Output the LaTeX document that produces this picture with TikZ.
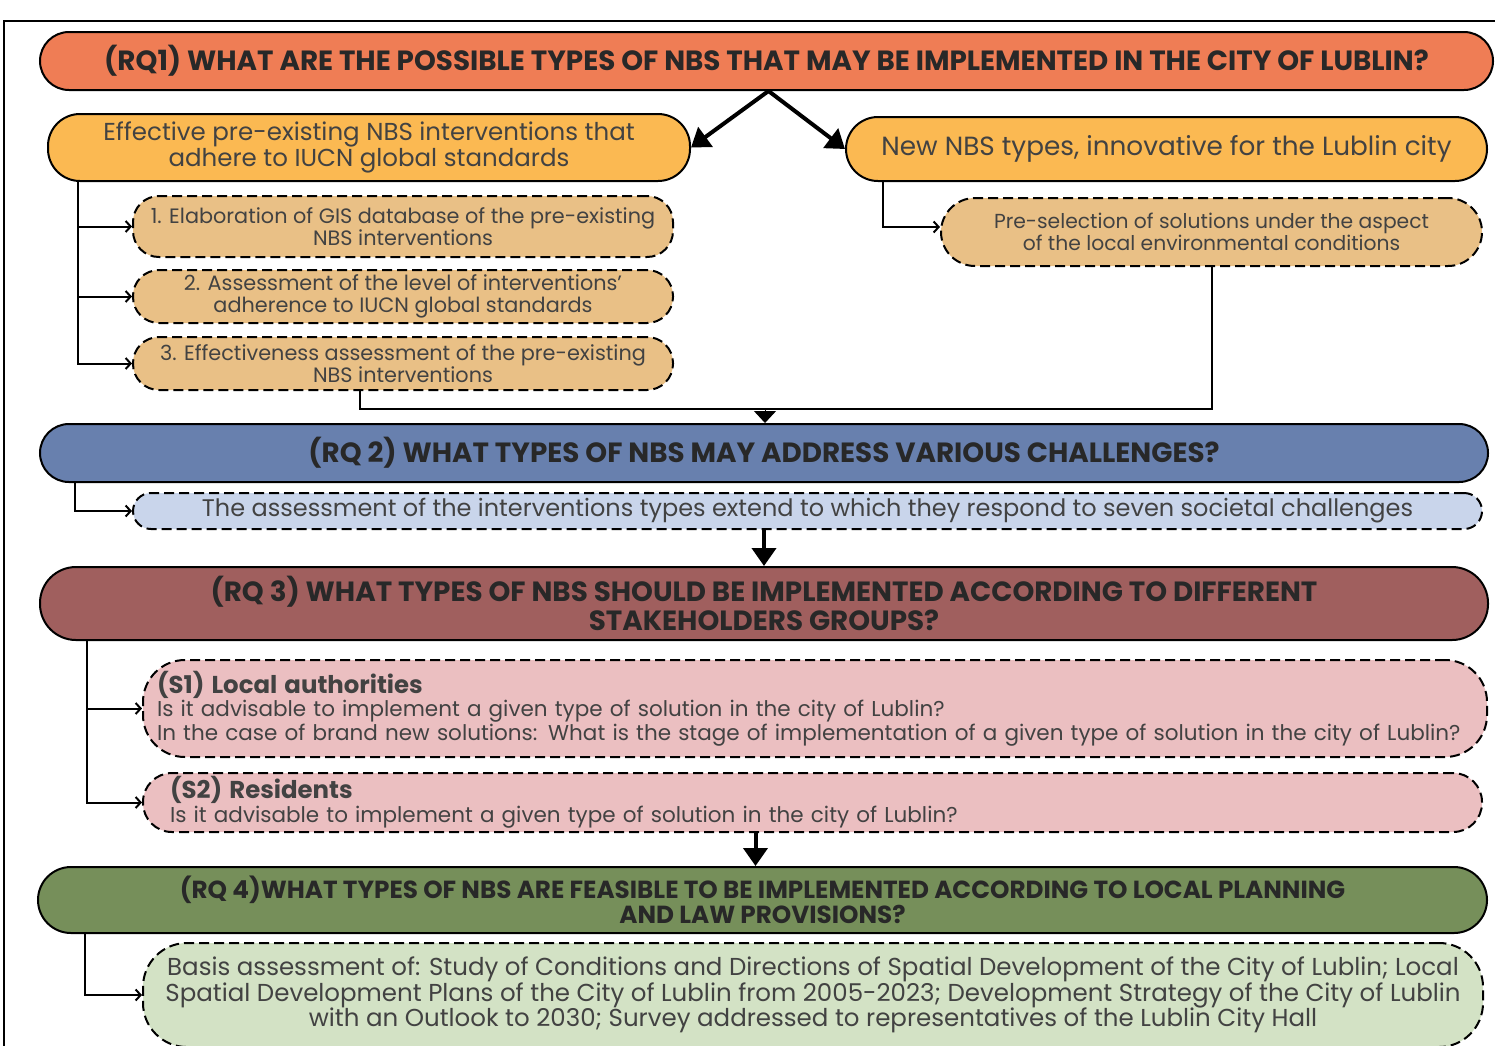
\documentclass[tikz,border=0pt]{standalone}
\usepackage{fontspec}
\setmainfont{Poppins}
\usepackage{xcolor}
\usetikzlibrary{calc,arrows.meta}

\definecolor{rqorange}{RGB}{239,125,85}
\definecolor{rqyellow}{RGB}{251,185,82}
\definecolor{steptan}{RGB}{233,192,134}
\definecolor{rqblue}{RGB}{104,128,174}
\definecolor{stepblue}{RGB}{201,213,235}
\definecolor{rqred}{RGB}{160,95,94}
\definecolor{steppink}{RGB}{235,191,193}
\definecolor{rqgreen}{RGB}{118,143,90}
\definecolor{stepgreen}{RGB}{211,226,197}
\definecolor{headtxt}{RGB}{40,40,40}
\definecolor{bodytxt}{RGB}{66,66,66}

\newcommand{\grouphead}[1]{{\bfseries\fontsize{24.4}{24}\selectfont #1}}

\begin{document}
\begin{tikzpicture}[x=1pt,y=-1pt]
        \tikzstyle{rq box}=[draw=black,line width=2pt,rounded corners=29pt,align=center,text=headtxt,font=\bfseries\fontsize{27.8}{29}\selectfont]
        \tikzstyle{aim box}=[draw=black,line width=2pt,rounded corners=32pt,align=center,text=bodytxt,font=\fontsize{24.5}{26}\selectfont]
        \tikzstyle{step box}=[draw=black,line width=2pt,dash pattern=on 10pt off 5pt,rounded corners=26pt,align=center,text=bodytxt,font=\fontsize{20.8}{22.5}\selectfont]
        \tikzstyle{link}=[line width=2pt,-{Straight Barb[length=5pt,width=11pt]}]
        \tikzstyle{big arrow}=[line width=4pt,-{Triangle[length=18pt,width=24pt]}]

        \useasboundingbox (0,0) rectangle (1495,1045);
        \draw[line width=1.5pt] (4,21) rectangle (1530,1080);

        \node(rq1)[rq box,fill=rqorange,minimum width=1453,minimum height=58] at (766.5,61)
            {(RQ1) WHAT ARE THE POSSIBLE TYPES OF NBS THAT MAY BE IMPLEMENTED IN THE CITY OF LUBLIN?};
        \node(pre)[aim box,fill=rqyellow,minimum width=642,minimum height=67] at (369,147.5)
            {Effective pre-existing NBS interventions that\\adhere to IUCN global standards};
        \node(new)[aim box,fill=rqyellow,minimum width=641,minimum height=64,font=\fontsize{26.3}{28}\selectfont] at (1166.5,149)
            {New NBS types, innovative for the Lublin city};
        \node(p1)[step box,fill=steptan,minimum width=540,minimum height=61] at (403,226.5)
            {1. Elaboration of GIS database of the pre-existing\\NBS interventions};
        \node(p2)[step box,fill=steptan,minimum width=540,minimum height=53] at (403,296.5)
            {2. Assessment of the level of interventions’\\adherence to IUCN global standards};
        \node(p3)[step box,fill=steptan,minimum width=540,minimum height=53] at (403,363.5)
            {3. Effectiveness assessment of the pre-existing\\NBS interventions};
        \node(sel)[step box,fill=steptan,minimum width=541,minimum height=68,rounded corners=34pt,font=\fontsize{20.3}{22}\selectfont] at (1211.5,232)
            {Pre-selection of solutions under the aspect\\of the local environmental conditions};

        \node(rq2)[rq box,fill=rqblue,minimum width=1448,minimum height=58] at (764,453)
            {(RQ 2) WHAT TYPES OF NBS MAY ADDRESS VARIOUS CHALLENGES?};
        \node(ass)[step box,fill=stepblue,minimum width=1349,minimum height=36,rounded corners=18pt,font=\fontsize{24}{26}\selectfont] at (807.5,511)
            {The assessment of the interventions types extend to which they respond to seven societal challenges};

        \node(rq3)[rq box,fill=rqred,minimum width=1448,minimum height=73,rounded corners=36pt] at (764,603.5)
            {(RQ 3) WHAT TYPES OF NBS SHOULD BE IMPLEMENTED ACCORDING TO DIFFERENT\\STAKEHOLDERS GROUPS?};
        \node(s1)[step box,fill=steppink,text width=1316,inner xsep=14pt,minimum height=97,align=left,rounded corners=42pt,font=\fontsize{21.5}{23.5}\selectfont] at (815,708.5)
            {\grouphead{(S1) Local authorities}\\Is it advisable to implement a given type of solution in the city of Lublin?\\In the case of brand new solutions: What is the stage of implementation of a given type of solution in the city of Lublin?};
        \node(s2)[step box,fill=steppink,text width=1285,inner xsep=27pt,minimum height=59,align=left,rounded corners=29pt,font=\fontsize{21.5}{24}\selectfont] at (812.5,802.5)
            {\grouphead{(S2) Residents}\\Is it advisable to implement a given type of solution in the city of Lublin?};

        \node(rq4)[rq box,fill=rqgreen,minimum width=1449,minimum height=66,rounded corners=33pt,font=\bfseries\fontsize{24.7}{25}\selectfont] at (762.5,900)
            {(RQ 4)WHAT TYPES OF NBS ARE FEASIBLE TO BE IMPLEMENTED ACCORDING TO LOCAL PLANNING\\AND LAW PROVISIONS?};
        \node(basis)[step box,fill=stepgreen,minimum width=1340,minimum height=104,rounded corners=44pt,font=\fontsize{24.5}{25.5}\selectfont] at (813,995)
            {Basis assessment of: Study of Conditions and Directions of Spatial Development of the City of Lublin; Local\\Spatial Development Plans of the City of Lublin from 2005-2023; Development Strategy of the City of Lublin\\with an Outlook to 2030; Survey addressed to representatives of the Lublin City Hall};

        \draw[big arrow] ($(rq1.south)+(2,0)$) -- (pre.east);
        \draw[big arrow] ($(rq1.south)+(2,0)$) -- (new.west);
        \draw[link] ($(pre.south west)+(31,0)$) |- (p1);
        \draw[link] ($(pre.south west)+(31,0)$) |- (p2);
        \draw[link] ($(pre.south west)+(31,0)$) |- (p3);
        \draw[link] ($(new.south west)+(38,0)$) |- ([yshift=5pt]sel.west);

        \coordinate (m) at (765,409);
        \draw[line width=2pt] ($(p3.south)+(-43,0)$) |- (m) -| (sel.south);
        \draw[line width=1pt,-{Triangle[length=12pt,width=22pt]}] (m) -- (m |- rq2.north);

        \draw[link] ($(rq2.south west)+(36,0)$) |- (ass);
        \draw[big arrow] (rq3.north |- ass.south) -- (rq3.north);
        \draw[link] ($(rq3.south west)+(48,0)$) |- (s1);
        \draw[link] ($(rq3.south west)+(48,0)$) |- (s2);
        \draw[big arrow] ([xshift=-7pt]rq4.north |- s2.south) -- ([xshift=-7pt]rq4.north);
        \draw[link] ($(rq4.south west)+(48,0)$) |- (basis);
\end{tikzpicture}
\end{document}
